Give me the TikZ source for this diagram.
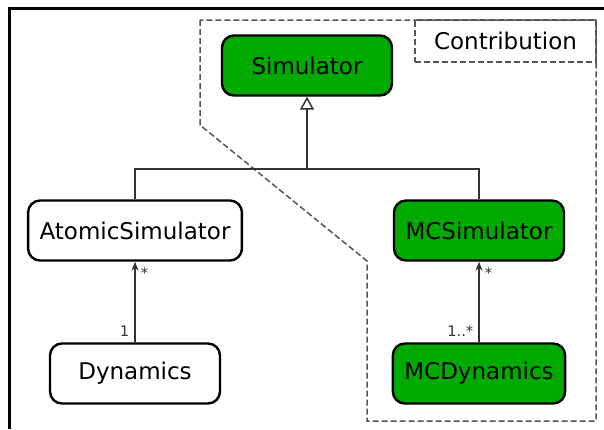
\documentclass[tikz,border=0pt]{standalone}
\usepackage{fontspec}
\setmainfont{DejaVu Sans}
\usetikzlibrary{arrows.meta,positioning}
\definecolor{contribgreen}{RGB}{0,170,0}
\definecolor{linegray}{RGB}{51,51,51}
\definecolor{dashgray}{RGB}{85,85,85}

\begin{document}
\begin{tikzpicture}[x=0.5pt,y=-0.5pt,node distance=82.5pt and 86pt,on grid,
  class node/.style={rectangle,rounded corners=6pt,draw,line width=1.2pt,fill=white,
    minimum width=85pt,minimum height=30pt,inner xsep=5.75pt,font=\fontsize{11.5}{14}\selectfont},
  contrib node/.style={class node,fill=contribgreen},
  assoc/.style={-{Stealth[length=4.5pt,width=3.5pt]},line width=0.75pt,draw=linegray},
  mult/.style={inner sep=2.5pt,text=linegray,font=\fontsize{7.3}{9}\selectfont},
  inherit/.style={-{Triangle[open,length=6.5pt,width=7pt]},line width=0.75pt,draw=linegray},
  region/.style={dash pattern=on 3pt off 1.5pt,line width=0.75pt,draw=dashgray}]

  \useasboundingbox (0,0) rectangle (604,429);
  \draw[line width=1.5pt] (9.5,429) -- (9.5,8.5) -- (604,8.5);

  % contribution region
  \draw[region] (200,20) -- (200,125) -- (367,261) -- (367,421) -- (596,421) -- (596,20) -- cycle;
  \node[region,minimum width=90.5pt,minimum height=21pt,font=\fontsize{11.5}{14}\selectfont] (contrib) at (505.5,41) {Contribution};

  \node[contrib node] (sim) at (307,65.5) {Simulator};
  \node[class node] (atomic) [below left=of sim] {AtomicSimulator};
  \node[contrib node] (mc) [below right=of sim] {MCSimulator};
  \node[class node] (dyn) [below=71.5pt of atomic] {Dynamics};
  \node[contrib node] (mcdyn) [below=71.5pt of mc] {MCDynamics};

  % generalization
  \coordinate (fork) at (sim |- 0,169);
  \draw[line width=0.75pt,draw=linegray] (atomic.north) |- (fork) -| (mc.north);
  \draw[inherit] (fork) -- (sim);

  \path (dyn) edge[assoc] node[mult,at start,above left] {1} node[mult,at end,below right] {*} (atomic)
        (mcdyn) edge[assoc] node[mult,at start,above left] {1..*} node[mult,at end,below right] {*} (mc);

\end{tikzpicture}
\end{document}
